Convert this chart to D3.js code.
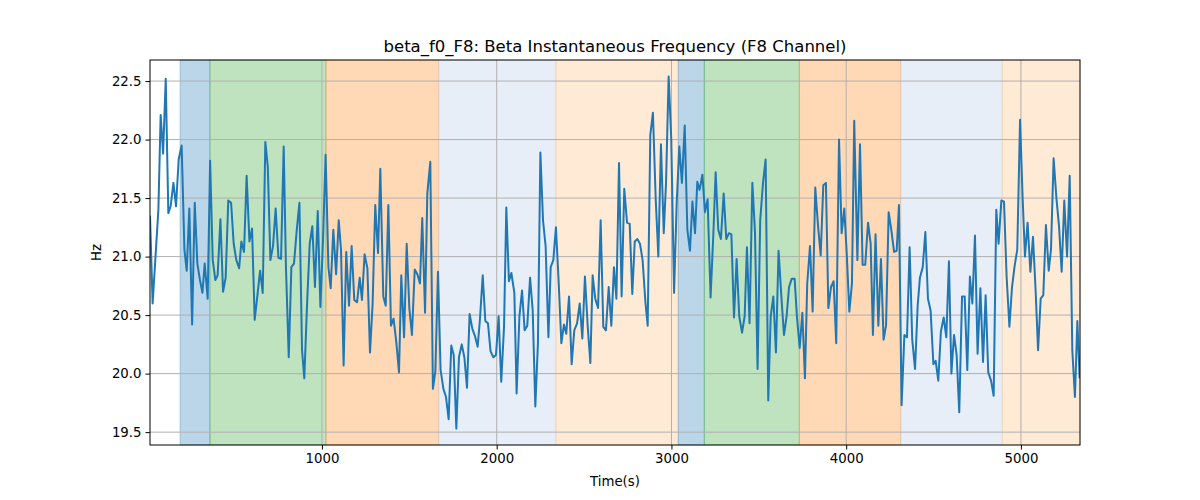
<!DOCTYPE html>
<html><head><meta charset="utf-8">
<script src="https://cdn.jsdelivr.net/npm/d3@7"></script>
<style>body{margin:0;background:#fff}svg{display:block}text{font-family:"DejaVu Sans",sans-serif}</style>
</head><body>
<svg id="c" width="1200" height="500"></svg>
<script>
const times = [16,31,64,77,91,106,121,134,150,165,180,197,213,226,241,257,272,287,302,316,329,346,360,375,390,403,419,434,449,464,480,495,510,526,539,554,569,585,600,615,630,646,661,676,690,705,720,735,751,766,781,794,810,825,840,856,871,886,899,915,930,945,960,976,991,1006,1021,1037,1050,1065,1081,1096,1109,1124,1139,1155,1170,1185,1201,1216,1229,1244,1260,1275,1290,1305,1321,1334,1351,1365,1380,1395,1410,1426,1441,1454,1470,1485,1500,1515,1531,1546,1561,1574,1590,1603,1620,1635,1649,1664,1679,1695,1710,1725,1740,1754,1769,1784,1800,1815,1830,1845,1861,1876,1891,1904,1920,1935,1950,1965,1981,1996,2011,2026,2042,2055,2070,2084,2101,2114,2130,2145,2160,2175,2191,2206,2221,2236,2250,2265,2280,2296,2309,2324,2339,2355,2370,2385,2398,2414,2429,2444,2460,2475,2490,2505,2521,2536,2549,2564,2580,2595,2610,2625,2641,2656,2671,2685,2700,2715,2730,2746,2761,2776,2790,2805,2820,2835,2851,2864,2879,2894,2910,2925,2940,2956,2969,2984,2999,3015,3030,3045,3060,3076,3091,3106,3120,3135,3148,3161,3177,3192,3207,3224,3240,3253,3268,3283,3299,3314,3329,3343,3358,3373,3388,3404,3419,3432,3447,3463,3478,3493,3508,3524,3539,3554,3568,3583,3598,3613,3629,3644,3659,3673,3688,3705,3718,3734,3749,3764,3777,3793,3808,3823,3839,3854,3869,3884,3898,3913,3928,3943,3959,3974,3989,4003,4018,4033,4046,4064,4079,4094,4109,4125,4140,4153,4168,4184,4199,4214,4228,4243,4258,4274,4289,4302,4317,4333,4348,4363,4378,4394,4409,4422,4438,4453,4468,4483,4499,4512,4527,4542,4558,4573,4588,4602,4617,4632,4647,4663,4678,4693,4708,4722,4737,4752,4768,4783,4798,4813,4829,4844,4859,4872,4888,4903,4918,4934,4949,4964,4979,4995,5010,5023,5038,5054,5069,5084,5098,5113,5128,5143,5159,5172,5187,5203,5218,5233,5248,5264,5279,5294,5309,5323,5336];
const values = [21.35,20.6,21.4,22.21,21.88,22.52,21.37,21.43,21.63,21.43,21.83,21.95,21.06,20.88,21.41,20.42,21.46,20.94,20.8,20.69,20.94,20.64,21.82,20.97,20.8,20.84,21.32,20.7,20.82,21.48,21.46,21.11,20.97,20.9,21.13,21.04,21.69,21.13,21.24,20.46,20.66,20.88,20.69,21.98,21.77,20.97,21.09,21.41,20.99,20.98,21.94,20.91,20.14,20.91,20.94,21.23,21.46,20.2,19.96,20.6,21.11,21.26,20.74,21.39,20.57,21.14,21.87,20.91,20.73,21.23,20.85,21.31,21.06,20.07,21.04,20.58,21.09,20.63,20.61,20.82,20.63,21.02,20.9,20.18,20.6,21.44,21.03,21.75,20.66,20.58,21.44,20.41,20.47,20.26,20.01,20.84,20.31,21.11,20.56,20.33,20.89,20.85,20.77,21.33,20.52,21.54,21.81,19.87,20.02,20.87,20.03,19.87,19.8,19.61,20.24,20.16,19.53,20.14,20.25,20.14,19.88,20.51,20.38,20.32,20.23,20.46,20.84,20.45,20.43,20.19,20.14,20.16,20.49,19.93,20.4,21.42,20.79,20.86,20.69,19.83,20.49,20.71,20.37,20.41,20.82,20.54,19.72,20.26,21.89,21.31,21.09,20.31,20.91,20.97,21.25,20.77,20.26,20.42,20.34,20.66,20.08,20.37,20.43,20.6,20.3,20.83,20.4,20.09,20.84,20.64,20.56,21.31,20.4,20.37,20.74,20.41,20.91,20.64,21.8,20.66,21.58,21.29,21.28,20.68,21.13,21.15,21.11,20.97,20.61,20.41,22.04,22.23,21.49,21.0,21.96,21.2,21.63,22.54,22.0,20.69,21.46,21.94,21.63,22.12,21.23,21.05,21.47,21.2,21.64,21.57,21.7,21.38,21.49,20.65,21.2,21.72,21.23,21.15,21.54,21.15,21.2,21.19,20.48,20.98,20.49,20.35,20.49,21.08,20.43,21.63,21.21,20.04,21.31,21.63,21.83,19.77,20.49,20.66,20.18,21.05,20.66,20.33,20.49,20.74,20.81,20.81,20.49,20.22,20.52,19.96,20.77,21.09,20.53,21.59,21.26,21.01,21.61,21.63,20.56,20.74,20.79,20.26,22.0,21.2,21.41,21.03,20.53,20.77,22.16,20.97,21.96,20.93,20.93,21.29,21.11,20.33,21.19,20.41,20.98,20.29,20.41,21.38,21.23,21.04,21.05,21.44,19.73,20.33,20.31,21.08,20.29,20.04,20.58,20.82,20.91,21.21,20.64,20.54,20.08,20.11,19.94,20.36,20.48,20.31,20.96,20.0,20.33,20.16,19.67,20.66,20.66,20.03,20.83,20.6,21.18,20.17,20.73,20.1,20.67,20.01,19.94,19.81,21.4,21.11,21.48,21.47,20.83,20.4,20.74,20.92,21.06,22.17,21.49,21.0,21.29,20.87,21.17,20.71,20.2,20.64,20.67,21.27,20.88,21.06,21.84,21.5,21.26,20.87,21.48,21.0,21.69,20.2,19.8,20.45,19.96];

const bandStarts = [188, 359, 1023, 1668, 2339, 3039, 3188, 3732, 4312, 4893];
const bandEnds   = [359, 1023, 1668, 2339, 3039, 3188, 3732, 4312, 4893, 5338];
const bandColors = ["#1f77b4","#2ca02c","#ff7f0e","#aec7e8","#ffbb78","#1f77b4","#2ca02c","#ff7f0e","#aec7e8","#ffbb78"];

const xTicks = [1000, 2000, 3000, 4000, 5000];
const yTicks = [19.5, 20.0, 20.5, 21.0, 21.5, 22.0, 22.5];
const xDomain = [16, 5338];
const yDomain = [19.39, 22.68];

const L = 150, R = 1080, T = 60, B = 445;
const svg = d3.select("#c");
const x = d3.scaleLinear().domain(xDomain).range([L, R]);
const y = d3.scaleLinear().domain(yDomain).range([B, T]);

// bands
svg.append("g").selectAll("rect").data(bandStarts).join("rect")
  .attr("x", (d,i) => x(d)).attr("width", (d,i) => x(Math.min(bandEnds[i], xDomain[1])) - x(d))
  .attr("y", T).attr("height", B - T)
  .attr("fill", (d,i) => bandColors[i]).attr("fill-opacity", 0.3)
  .attr("stroke", (d,i) => bandColors[i]).attr("stroke-opacity", 0.3).attr("stroke-width", 1);

// grid
const g = svg.append("g");
g.selectAll(".gx").data(xTicks).join("line")
  .attr("x1", d => x(d)).attr("x2", d => x(d)).attr("y1", T).attr("y2", B)
  .attr("stroke", "#b0b0b0").attr("stroke-width", 1);
g.selectAll(".gy").data(yTicks).join("line")
  .attr("y1", d => y(d)).attr("y2", d => y(d)).attr("x1", L).attr("x2", R)
  .attr("stroke", "#b0b0b0").attr("stroke-width", 1);

// line
svg.append("clipPath").attr("id","clp").append("rect").attr("x",L).attr("y",T).attr("width",R-L).attr("height",B-T);
svg.append("path").datum(times.map((t,i)=>[t, values[i]]))
  .attr("clip-path","url(#clp)")
  .attr("fill","none").attr("stroke","#1f77b4").attr("stroke-width",2).attr("stroke-linejoin","round")
  .attr("d", d3.line().x(d => x(d[0])).y(d => y(d[1])));

// frame
svg.append("rect").attr("x",L).attr("y",T).attr("width",R-L).attr("height",B-T)
  .attr("fill","none").attr("stroke","#000").attr("stroke-width",1);

// axes
const xa = svg.append("g").attr("transform",`translate(0,${B})`)
  .call(d3.axisBottom(x).tickValues(xTicks).tickSize(4.5).tickPadding(4).tickFormat(d3.format("d")));
const ya = svg.append("g").attr("transform",`translate(${L},0)`)
  .call(d3.axisLeft(y).tickValues(yTicks).tickSize(4.5).tickPadding(4).tickFormat(d3.format(".1f")));
[xa, ya].forEach(a => {
  a.select(".domain").remove();
  a.selectAll("text").attr("font-size", 13.3).attr("fill", "#000").attr("font-family","DejaVu Sans");
  a.selectAll("line").attr("stroke","#000");
});

svg.append("text").attr("x", (L+R)/2).attr("y", 52).attr("text-anchor","middle")
  .attr("font-size", 16.5).text("beta_f0_F8: Beta Instantaneous Frequency (F8 Channel)");
svg.append("text").attr("x", (L+R)/2).attr("y", 486).attr("text-anchor","middle")
  .attr("font-size", 13.3).text("Time(s)");
svg.append("text").attr("transform", `translate(101,${(T+B)/2}) rotate(-90)`).attr("text-anchor","middle")
  .attr("font-size", 13.3).text("Hz");
</script>
</body></html>
